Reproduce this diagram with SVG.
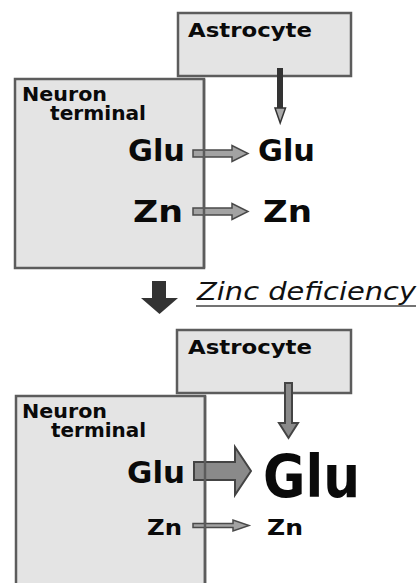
<svg xmlns="http://www.w3.org/2000/svg" width="420" height="583" viewBox="0 0 420 583">
  <style>
    .box { fill: #e4e4e4; stroke: #5c5c5c; stroke-width: 2.5; }
    .outline { fill: none; stroke: #5c5c5c; stroke-width: 2.5; }
    .lbl { font-family: "DejaVu Sans", "Liberation Sans", sans-serif; font-weight: bold; fill: #0a0a0a; }
    .arrow { fill: #a3a3a3; stroke: #4a4a4a; stroke-width: 1.5; stroke-linejoin: miter; }
    .arrow-dark { fill: #8a8a8a; stroke: #444; stroke-width: 2; }
  </style>
  <rect width="420" height="583" fill="#fff"/>

  <!-- upper panel: normal state -->
  <g id="astrocyte-top">
    <rect class="box" x="178" y="13" width="173" height="63"/>
    <text class="lbl" x="188" y="37" font-size="20" textLength="124" lengthAdjust="spacingAndGlyphs">Astrocyte</text>
  </g>
  <g id="neuron-top">
    <rect class="box" x="15" y="79" width="189" height="189"/>
    <text class="lbl" x="22" y="101" font-size="19" textLength="85" lengthAdjust="spacingAndGlyphs">Neuron</text>
    <text class="lbl" x="50" y="120" font-size="19" textLength="96" lengthAdjust="spacingAndGlyphs">terminal</text>
    <text class="lbl" x="128" y="161" font-size="31" textLength="57" lengthAdjust="spacingAndGlyphs">Glu</text>
    <text class="lbl" x="133" y="222" font-size="31" textLength="50" lengthAdjust="spacingAndGlyphs">Zn</text>
  </g>
  <g id="glu-out-top">
    <text class="lbl" x="258" y="161" font-size="31" textLength="57" lengthAdjust="spacingAndGlyphs">Glu</text>
  </g>
  <g id="zn-out-top">
    <text class="lbl" x="263" y="222" font-size="31" textLength="49" lengthAdjust="spacingAndGlyphs">Zn</text>
  </g>

  <!-- transition -->
  <g id="transition">
    <polygon points="152,281 166,281 166,298 178,298 159.5,314 141,298 152,298" fill="#333"/>
    <text x="197" y="300" font-family="DejaVu Sans, Liberation Sans, sans-serif" font-style="italic" font-size="25" fill="#111" textLength="219" lengthAdjust="spacingAndGlyphs">Zinc deficiency</text>
    <line x1="196" y1="306" x2="416" y2="306" stroke="#444" stroke-width="1.5"/>
  </g>

  <!-- lower panel: zinc deficiency -->
  <g id="astrocyte-bottom">
    <rect class="box" x="177" y="330" width="174" height="63"/>
    <text class="lbl" x="188" y="354" font-size="20" textLength="124" lengthAdjust="spacingAndGlyphs">Astrocyte</text>
  </g>
  <g id="neuron-bottom">
    <rect class="box" x="16" y="396" width="189" height="200"/>
    <text class="lbl" x="22" y="418" font-size="19" textLength="85" lengthAdjust="spacingAndGlyphs">Neuron</text>
    <text class="lbl" x="51" y="437" font-size="19" textLength="95" lengthAdjust="spacingAndGlyphs">terminal</text>
    <text class="lbl" x="127" y="483" font-size="31" textLength="58" lengthAdjust="spacingAndGlyphs">Glu</text>
    <text class="lbl" x="147" y="535" font-size="22" textLength="35" lengthAdjust="spacingAndGlyphs">Zn</text>
  </g>
  <g id="glu-out-bottom">
    <text class="lbl" x="263" y="497" font-size="59" textLength="97" lengthAdjust="spacingAndGlyphs">Glu</text>
  </g>
  <g id="zn-out-bottom">
    <text class="lbl" x="267" y="535" font-size="22" textLength="36" lengthAdjust="spacingAndGlyphs">Zn</text>
  </g>

  <!-- connectors -->
  <g id="connectors">
    <!-- astrocyte to synapse, upper -->
    <rect x="277" y="68" width="6" height="41" fill="#333"/>
    <polygon points="275,108 285.5,108 280.2,123" fill="#aaa" stroke="#333" stroke-width="1.5"/>
    <!-- release, upper -->
    <polygon class="arrow" points="193,150 232,150 232,145.5 248,153.5 232,161.5 232,157 193,157"/>
    <polygon class="arrow" points="193,208 232,208 232,203.5 248,211.5 232,219.5 232,215 193,215"/>
    <!-- astrocyte to synapse, lower -->
    <polygon class="arrow-dark" points="285,383 292,383 292,423 298,423 288.5,438 279,423 285,423" stroke-width="1.5"/>
    <!-- release, lower -->
    <polygon class="arrow-dark" points="194,462 235,462 235,447 251,471 235,495 235,480 194,480"/>
    <polygon class="arrow" points="193,523.5 233,523.5 233,520 249,525.5 233,531 233,527.5 193,527.5" stroke-width="1"/>
  </g>

  <!-- terminal membranes drawn over the release arrows -->
  <g id="membranes">
    <line class="outline" x1="204" y1="79" x2="204" y2="268"/>
    <line class="outline" x1="205" y1="396" x2="205" y2="583"/>
  </g>
</svg>
